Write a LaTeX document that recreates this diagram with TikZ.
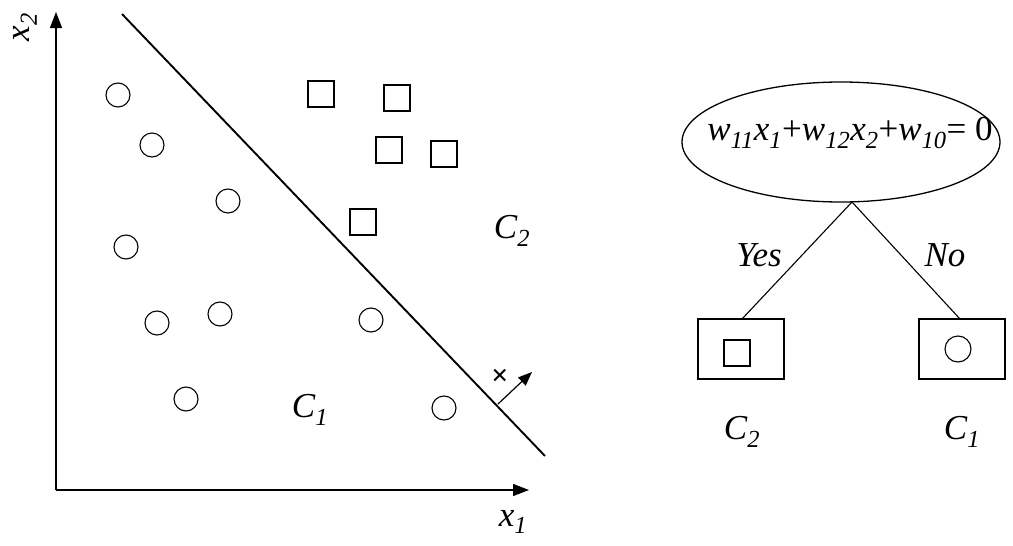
\documentclass[tikz,border=0pt]{standalone}
\usepackage{fontspec}
\setmainfont{Liberation Serif}
\usetikzlibrary{arrows.meta,shapes.geometric}
\newcommand\sbx[1]{\textsubscript{\itshape #1}}
\tikzset{
  pt/.style={draw,circle,line width=1.1pt,minimum size=24pt,inner sep=0pt},
  sq/.style={draw,rectangle,line width=1.1pt,minimum size=26pt,inner sep=0pt},
  lbl/.style={font=\fontsize{35}{37}\selectfont\itshape,inner sep=0pt},
  axis/.style={line width=1.4pt,-{Triangle[length=16pt,width=12pt]}},
  leaf/.style={draw,rectangle,line width=1.3pt,minimum width=86pt,minimum height=60pt,inner sep=0pt},
  branch/.style={line width=1.1pt}
}
\begin{document}
\begin{tikzpicture}[x=1pt,y=-1pt]
\useasboundingbox (0,0) rectangle (1013,546);
% axes
\coordinate (o) at (56,490);
\coordinate (ytip) at (56,12);
\coordinate (xtip) at (529,490);
\draw[axis] (o) -- (ytip);
\draw[axis] (o) -- (xtip);
\node[lbl,rotate=90] (x2) at (25,27) {x\textsubscript{2}};
\node[lbl] (x1) at (513,522) {x\textsubscript{1}};
% decision line
\coordinate (la) at (122,14);
\coordinate (lb) at (545,456);
\draw[line width=1.9pt] (la) -- (lb);
\coordinate (nb) at (498,404);
\coordinate (nt) at (532,372);
\draw[line width=1.2pt,-{Triangle[length=14pt,width=11pt]}] (nb) -- (nt);
\node[font=\fontsize{30}{30}\selectfont\bfseries,inner sep=0pt] (cross) at (500,377) {×};
% circles
\node[pt] (c1) at (118,95) {};
\node[pt] (c2) at (152,145) {};
\node[pt] (c3) at (228,201) {};
\node[pt] (c4) at (126,247) {};
\node[pt] (c5) at (157,323) {};
\node[pt] (c6) at (220,314) {};
\node[pt] (c7) at (371,320) {};
\node[pt] (c8) at (186,399) {};
\node[pt] (c9) at (444,408) {};
% squares
\node[sq] (s1) at (321,94) {};
\node[sq] (s2) at (397,98) {};
\node[sq] (s3) at (389,150) {};
\node[sq] (s4) at (444,154) {};
\node[sq] (s5) at (363,222) {};
\node[lbl] (C2a) at (512,231) {C\textsubscript{2}};
\node[lbl] (C1a) at (310,410) {C\textsubscript{1}};
% tree
\node[draw,ellipse,line width=1.3pt,minimum width=318pt,minimum height=120pt,inner sep=0pt] (root) at (841,142) {};
\node[font=\fontsize{35}{37}\selectfont,inner sep=0pt] (eq) at (850,133)
  {\textit{w}\sbx{11}\textit{x}\sbx{1}+\textit{w}\sbx{12}\textit{x}\sbx{2}+\textit{w}\sbx{10}= 0};
\coordinate (apex) at (852,202);
\node[leaf] (L) at (741,349) {};
\node[leaf] (R) at (962,349) {};
\node[sq] (ls) at (737,353) {};
\node[pt,minimum size=26pt] (rc) at (958,349) {};
\draw[branch] (apex) -- (742,319) coordinate (lt);
\draw[branch] (apex) -- (960,319) coordinate (rt);
\node[lbl] (yes) at (759,255) {Yes};
\node[lbl] (no) at (945,255) {No};
\node[lbl] (C2b) at (742,432) {C\textsubscript{2}};
\node[lbl] (C1b) at (962,432) {C\textsubscript{1}};
\end{tikzpicture}
\end{document}
